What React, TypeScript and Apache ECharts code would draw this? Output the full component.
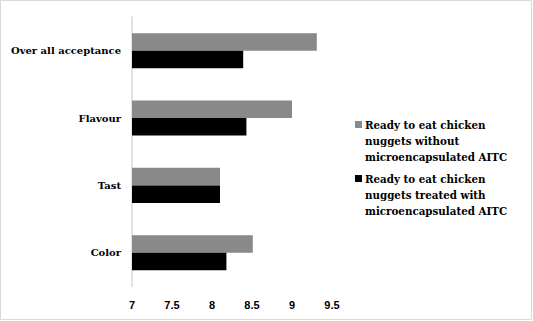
import React, { useEffect, useRef } from "react";
import * as echarts from "echarts";

const categories = ["Color", "Tast", "Flavour", "Over all acceptance"];
const withoutAITC = [8.51, 8.1, 9.0, 9.31];
const treatedAITC = [8.18, 8.1, 8.43, 8.39];
const legendLabels = [
  "Ready to eat chicken\nnuggets without\nmicroencapsulated AITC",
  "Ready to eat chicken\nnuggets treated with\nmicroencapsulated AITC",
];
const xMin = 7;
const xMax = 9.5;
const xInterval = 0.5;

const GRAY = "#898989";
const BLACK = "#000000";

export default function App() {
  const ref = useRef<HTMLDivElement>(null);
  useEffect(() => {
    document.body.style.margin = "0";
    const chart = echarts.init(ref.current!, null, { renderer: "svg" });
    const serif = "DejaVu Serif";
    chart.setOption({
      animation: false,
      backgroundColor: "#ffffff",
      textStyle: { fontFamily: serif },
      grid: {
        left: 132,
        right: 201,
        top: 17,
        bottom: 34.6,
        containLabel: false,
        outerBoundsMode: "none",
      },
      xAxis: {
        type: "value",
        min: xMin,
        max: xMax,
        interval: xInterval,
        splitLine: { show: false },
        axisLine: { show: false },
        axisTick: { show: false },
        axisLabel: {
          color: "#000",
          fontFamily: "Liberation Sans",
          fontWeight: "bold",
          fontSize: 11,
          margin: 13,
        },
      },
      yAxis: {
        type: "category",
        data: categories,
        axisLine: { show: true, lineStyle: { color: "#d9d9d9", width: 1.5 } },
        axisTick: { show: false },
        axisLabel: {
          color: "#000",
          fontFamily: serif,
          fontWeight: "bold",
          fontSize: 10,
          margin: 11,
        },
      },
      series: [
        {
          name: "without",
          type: "bar",
          data: withoutAITC,
          itemStyle: { color: GRAY },
          barGap: "0%",
          barCategoryGap: "48%",
        },
        {
          name: "treated",
          type: "bar",
          data: treatedAITC,
          itemStyle: { color: BLACK },
          barGap: "0%",
          barCategoryGap: "48%",
        },
      ],
      graphic: [
        {
          type: "rect",
          shape: { x: 0.5, y: 0.5, width: 531, height: 319 },
          style: { fill: "none", stroke: "#d9d9d9", lineWidth: 1 },
          silent: true,
        },
        {
          type: "rect",
          shape: { x: 355, y: 121, width: 7, height: 7 },
          style: { fill: GRAY },
        },
        {
          type: "text",
          x: 365,
          y: 117,
          style: {
            text: legendLabels[0],
            font: "bold 10.3px DejaVu Serif",
            fill: "#000",
            lineHeight: 16,
          },
        },
        {
          type: "rect",
          shape: { x: 355, y: 175, width: 7, height: 7 },
          style: { fill: BLACK },
        },
        {
          type: "text",
          x: 365,
          y: 171,
          style: {
            text: legendLabels[1],
            font: "bold 10.3px DejaVu Serif",
            fill: "#000",
            lineHeight: 16,
          },
        },
      ],
    });
    return () => chart.dispose();
  }, []);
  return <div ref={ref} style={{ width: 533, height: 321 }} />;
}
